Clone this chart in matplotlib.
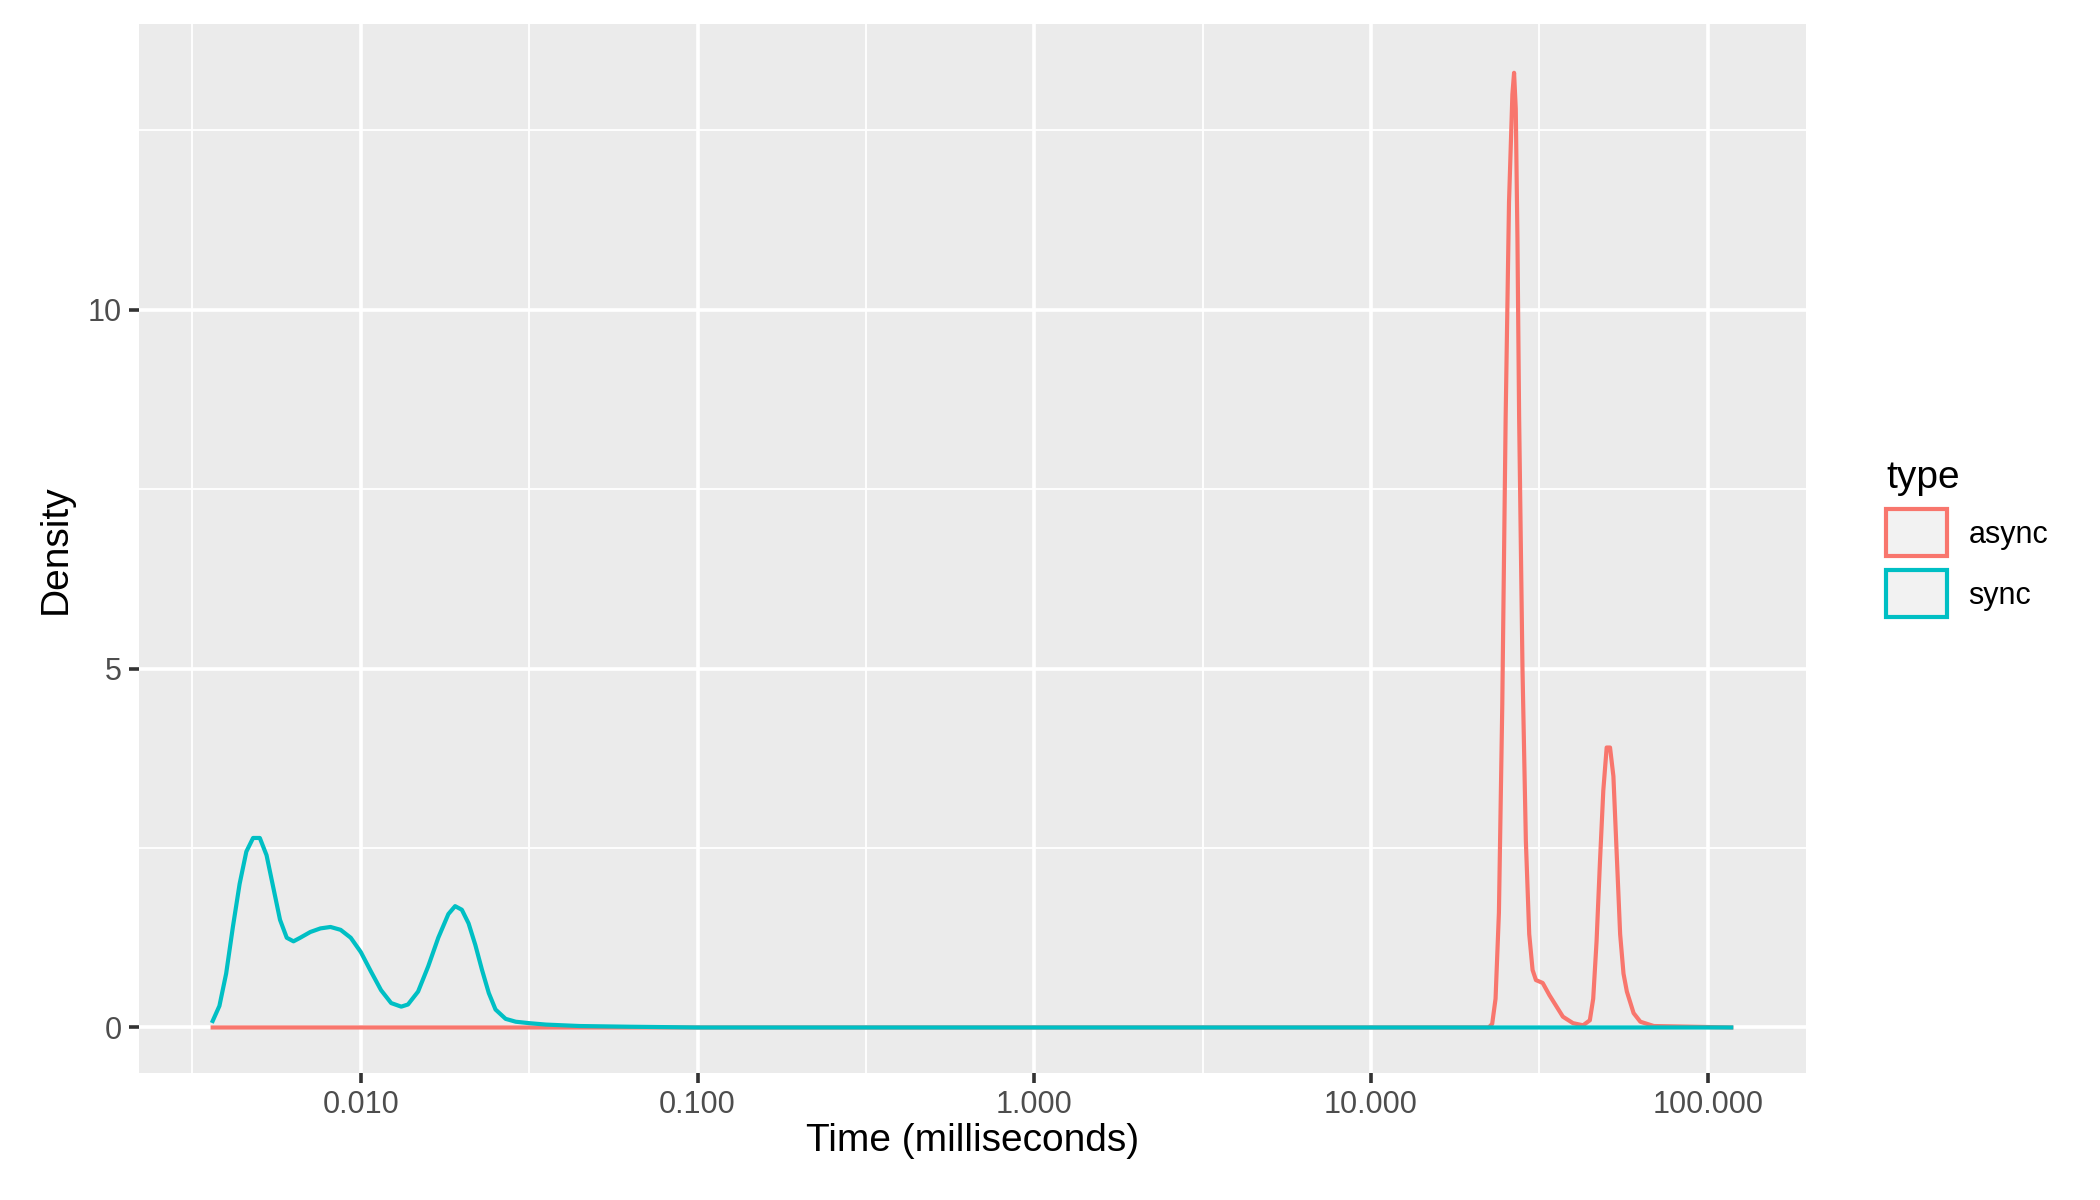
import numpy as np
import matplotlib.pyplot as plt
from matplotlib.patches import Patch

plt.rcParams['font.family'] = ['Liberation Sans', 'DejaVu Sans']

# density curves (x = log10 of time in ms)
sync_logx = [-2.44, -2.42, -2.40, -2.38, -2.36, -2.34, -2.32, -2.30, -2.28, -2.26,
             -2.24, -2.22, -2.20, -2.18, -2.15, -2.12, -2.09, -2.06, -2.03, -2.00,
             -1.97, -1.94, -1.91, -1.88, -1.86, -1.83, -1.80, -1.77, -1.74, -1.72,
             -1.70, -1.68, -1.66, -1.64, -1.62, -1.60, -1.57, -1.54, -1.50, -1.45,
             -1.35, -1.2, -1.0, 0.0, 1.0, 2.07]
sync_dens = [0.09, 0.3, 0.75, 1.4, 2.0, 2.45, 2.64, 2.64, 2.4, 1.95,
             1.5, 1.25, 1.2, 1.25, 1.33, 1.38, 1.4, 1.36, 1.25, 1.05,
             0.78, 0.52, 0.34, 0.29, 0.32, 0.5, 0.85, 1.25, 1.58, 1.69,
             1.64, 1.45, 1.15, 0.8, 0.48, 0.25, 0.12, 0.08, 0.06, 0.04,
             0.02, 0.01, 0.0, 0.0, 0.0, 0.0]

async_logx = [-2.44, 1.35, 1.36, 1.37, 1.38, 1.39, 1.40, 1.41, 1.42, 1.425, 1.43, 1.435,
              1.44, 1.45, 1.46, 1.47, 1.48, 1.49, 1.51, 1.53, 1.55, 1.57, 1.60,
              1.63, 1.65, 1.66, 1.67, 1.68, 1.69, 1.70, 1.71, 1.72, 1.73, 1.74,
              1.75, 1.76, 1.78, 1.80, 1.84, 2.07]
async_dens = [0.0, 0.0, 0.05, 0.4, 1.6, 4.5, 8.5, 11.5, 13.0, 13.3, 12.8, 11.0,
              8.5, 5.0, 2.6, 1.3, 0.8, 0.66, 0.62, 0.45, 0.3, 0.15, 0.06,
              0.03, 0.1, 0.4, 1.2, 2.3, 3.3, 3.9, 3.9, 3.5, 2.4, 1.3,
              0.75, 0.5, 0.2, 0.08, 0.02, 0.0]

x_breaks = [0.01, 0.1, 1, 10, 100]
x_labels = ['0.010', '0.100', '1.000', '10.000', '100.000']
y_breaks = [0, 5, 10]

red = '#F8766D'
teal = '#00BFC4'

fig = plt.figure(figsize=(21, 12), dpi=100)
ax = fig.add_axes([0.066, 0.1055, 0.794, 0.8745])
ax.set_facecolor('#EBEBEB')

ax.plot(10 ** np.array(async_logx), async_dens, color=red, lw=3)
ax.plot(10 ** np.array(sync_logx), sync_dens, color=teal, lw=3)

ax.set_xscale('log')
ax.set_xlim(10 ** -2.66, 10 ** 2.292)
ax.set_ylim(-0.64, 13.98)

ax.set_xticks(x_breaks)
ax.set_xticklabels(x_labels)
ax.set_xticks([10 ** v for v in [-2.5, -1.5, -0.5, 0.5, 1.5]], minor=True)
ax.set_xticklabels([], minor=True)
ax.set_yticks(y_breaks)
ax.set_yticks([2.5, 7.5, 12.5], minor=True)

ax.grid(True, which='major', color='white', lw=2.6)
ax.grid(True, which='minor', color='white', lw=1.3)
ax.set_axisbelow(True)
for s in ax.spines.values():
    s.set_visible(False)
ax.tick_params(which='major', length=7, width=2.6, color='#333333',
               labelsize=22, labelcolor='#4D4D4D', pad=5)
ax.tick_params(which='minor', length=0)

ax.set_xlabel('Time (milliseconds)', fontsize=28, labelpad=2)
ax.set_ylabel('Density', fontsize=28, labelpad=10)

handles = [Patch(facecolor='#F2F2F2', edgecolor=red, lw=3, label='async'),
           Patch(facecolor='#F2F2F2', edgecolor=teal, lw=3, label='sync')]
leg = fig.legend(handles=handles, title='type', loc='upper left',
                 bbox_to_anchor=(0.885, 0.64), frameon=False, fontsize=22,
                 title_fontsize=28, handlelength=2.0, handleheight=2.0,
                 labelspacing=0.45, handletextpad=0.7)
leg._legend_box.align = 'left'

fig.savefig('out.png', dpi=100)
